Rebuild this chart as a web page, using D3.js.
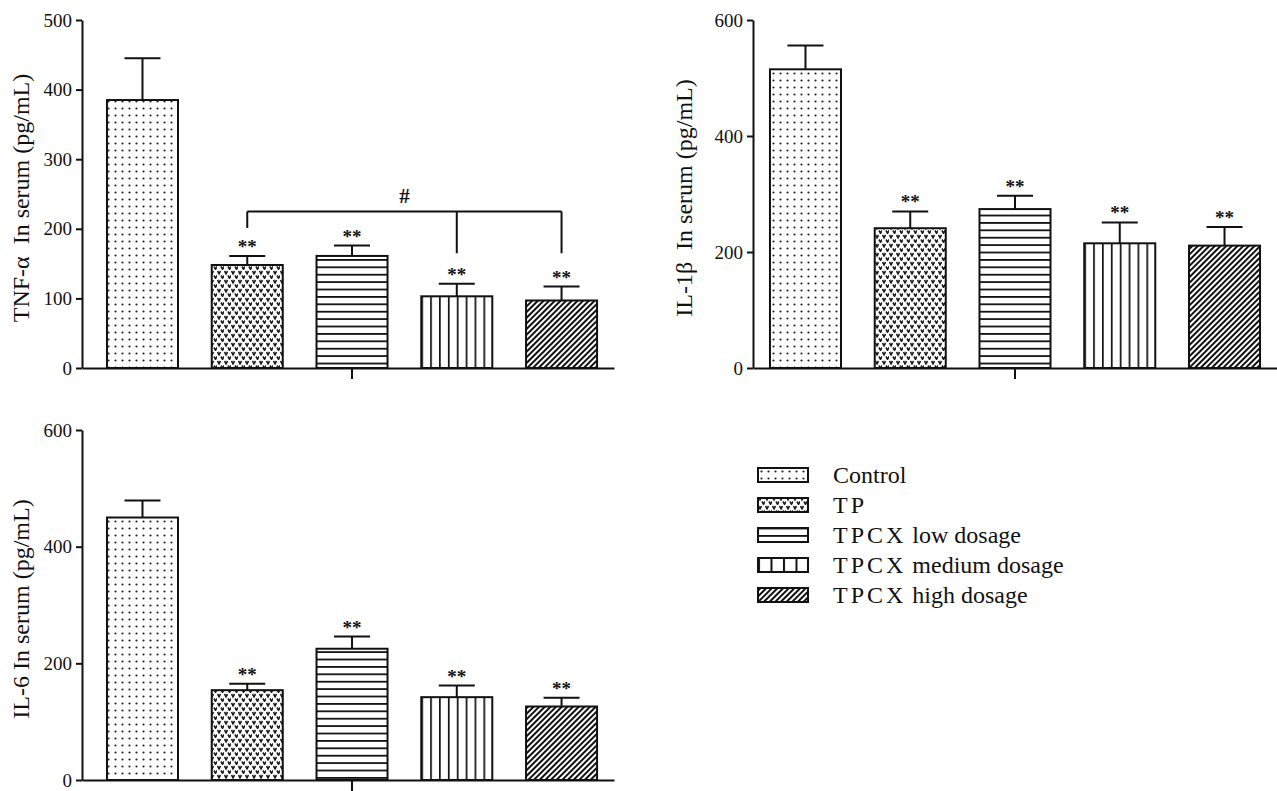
<!DOCTYPE html>
<html>
<head>
<meta charset="utf-8">
<script src="https://cdn.jsdelivr.net/npm/d3@7"></script>
<style>
  body { margin: 0; background: #fff; }
  text { font-family: "Liberation Serif", "Times New Roman", serif; fill: #111; }
</style>
</head>
<body>
<svg id="chart" width="1277" height="791"></svg>
<script>
// groups, in bar order
const groups = ['Control', 'TP', 'TPCX low dosage', 'TPCX medium dosage', 'TPCX high dosage'];

// TNF-α (pg/mL): mean and error
const tnfMean = [385, 148, 161, 103, 97];
const tnfErr = [60, 13, 15, 18, 20];
const tnfTicks = [0, 100, 200, 300, 400, 500];
const tnfStars = ['', '**', '**', '**', '**'];

// IL-1β
const il1bMean = [515, 241, 274, 215, 211];
const il1bErr = [41, 29, 23, 36, 32];
const il1bTicks = [0, 200, 400, 600];
const il1bStars = ['', '**', '**', '**', '**'];

// IL-6
const il6Mean = [450, 154, 225, 142, 126];
const il6Err = [29, 11, 21, 20, 15];
const il6Ticks = [0, 200, 400, 600];
const il6Stars = ['', '**', '**', '**', '**'];

// "#" bracket on the TNF-α panel
const bracketGroups = ['TP', 'TPCX medium dosage', 'TPCX high dosage'];
const bracketLevel = 225;
const bracketEnds = [201, 165, 165];
const bracketLabel = '#';

const svg = d3.select('#chart');
const defs = svg.append('defs');
const ink = '#111';

// ---- fill patterns ----
let p = defs.append('pattern').attr('id', 'p-dots')
    .attr('patternUnits', 'userSpaceOnUse').attr('width', 7).attr('height', 7);
p.append('circle').attr('cx', 3.5).attr('cy', 3.5).attr('r', 1.1).attr('fill', '#222');

p = defs.append('pattern').attr('id', 'p-vees')
    .attr('patternUnits', 'userSpaceOnUse').attr('width', 7).attr('height', 9);
p.append('path').attr('d', 'M0.5,1 L2,3.8 L3.5,1 M4,5.5 L5.5,8.3 L7,5.5')
    .attr('fill', 'none').attr('stroke', '#1a1a1a').attr('stroke-width', 1.6);

p = defs.append('pattern').attr('id', 'p-hlines')
    .attr('patternUnits', 'userSpaceOnUse').attr('width', 10).attr('height', 7.4);
p.append('rect').attr('x', 0).attr('y', 0).attr('width', 10).attr('height', 1.8).attr('fill', ink);

p = defs.append('pattern').attr('id', 'p-vlines')
    .attr('patternUnits', 'objectBoundingBox').attr('width', 0.125).attr('height', 1);
p.append('rect').attr('x', 0).attr('y', 0).attr('width', 1.7).attr('height', 2000).attr('fill', ink);

p = defs.append('pattern').attr('id', 'p-vlines-leg')
    .attr('patternUnits', 'objectBoundingBox').attr('width', 0.25).attr('height', 1);
p.append('rect').attr('x', 0).attr('y', 0).attr('width', 2).attr('height', 2000).attr('fill', ink);

p = defs.append('pattern').attr('id', 'p-diag')
    .attr('patternUnits', 'userSpaceOnUse').attr('width', 4).attr('height', 4)
    .attr('patternTransform', 'rotate(45)');
p.append('rect').attr('x', 0).attr('y', 0).attr('width', 2).attr('height', 4).attr('fill', ink);

const fills = ['p-dots', 'p-vees', 'p-hlines', 'p-vlines', 'p-diag'];
const legendFills = ['p-dots', 'p-vees', 'p-hlines', 'p-vlines-leg', 'p-diag'];

function drawPanel(cfg) {
    let g = svg.append('g');

    let x = d3.scaleBand().domain(groups)
        .range([cfg.x0, cfg.x1]).paddingInner(0.322).paddingOuter(cfg.outer).align(cfg.align);
    let y = d3.scaleLinear().domain([0, d3.max(cfg.ticks)]).range([cfg.y0, cfg.y1]);

    // y axis
    let ya = g.append('g')
        .attr('transform', 'translate(' + cfg.x0 + ',0)')
        .call(d3.axisLeft(y).tickValues(cfg.ticks).tickSize(6).tickSizeOuter(0).tickPadding(4));
    ya.select('.domain').attr('stroke', ink).attr('stroke-width', 2);
    ya.selectAll('.tick line').attr('stroke', ink).attr('stroke-width', 2);
    ya.selectAll('.tick text').style('font-size', '19px').attr('fill', ink);

    // x axis with one tick in the middle
    let xa = g.append('g')
        .attr('transform', 'translate(0,' + cfg.y0 + ')')
        .call(d3.axisBottom(x).tickValues([groups[2]]).tickSize(11).tickSizeOuter(0).tickFormat(''));
    xa.select('.domain').attr('stroke', ink).attr('stroke-width', 2);
    xa.selectAll('.tick line').attr('stroke', ink).attr('stroke-width', 2);

    // axis title
    g.append('text')
        .attr('transform', 'translate(' + cfg.titleX + ',' + ((cfg.y0 + cfg.y1) / 2 + 4) + ') rotate(-90)')
        .attr('text-anchor', 'middle')
        .style('font-size', '24px')
        .attr('xml:space', 'preserve')
        .text(cfg.title);

    let data = groups.map((d, i) => ({ name: d, mean: cfg.mean[i], err: cfg.err[i], star: cfg.stars[i], fill: fills[i] }));

    // bars
    g.selectAll('.bar').data(data).enter().append('rect')
        .attr('class', 'bar')
        .attr('x', d => x(d.name))
        .attr('y', d => y(d.mean))
        .attr('width', x.bandwidth())
        .attr('height', d => y(0) - y(d.mean))
        .attr('fill', d => 'url(#' + d.fill + ')')
        .attr('stroke', ink)
        .attr('stroke-width', 2);

    // error bars
    let cx = d => x(d.name) + x.bandwidth() / 2;
    g.selectAll('.err').data(data).enter().append('path')
        .attr('class', 'err')
        .attr('d', d => 'M' + cx(d) + ',' + y(d.mean) + 'V' + y(d.mean + d.err)
            + 'M' + (cx(d) - 18) + ',' + y(d.mean + d.err) + 'H' + (cx(d) + 18))
        .attr('fill', 'none')
        .attr('stroke', ink)
        .attr('stroke-width', 2);

    // significance stars
    g.selectAll('.star').data(data.filter(d => d.star)).enter().append('text')
        .attr('class', 'star')
        .attr('x', d => cx(d))
        .attr('y', d => y(d.mean + d.err) - 3)
        .attr('text-anchor', 'middle')
        .style('font-size', '19px')
        .style('font-weight', 'bold')
        .text(d => d.star);

    return { g: g, x: x, y: y };
}

let p1 = drawPanel({ x0: 82, x1: 614, y0: 368, y1: 20, outer: 0.2, align: 0.596,
    ticks: tnfTicks, mean: tnfMean, err: tnfErr, stars: tnfStars,
    title: 'TNF-α  In serum (pg/mL)', titleX: 29 });
drawPanel({ x0: 753, x1: 1277, y0: 368, y1: 20, outer: 0.162, align: 0.5,
    ticks: il1bTicks, mean: il1bMean, err: il1bErr, stars: il1bStars,
    title: 'IL-1β  In serum (pg/mL)', titleX: 692 });
drawPanel({ x0: 82, x1: 614, y0: 780, y1: 430, outer: 0.2, align: 0.596,
    ticks: il6Ticks, mean: il6Mean, err: il6Err, stars: il6Stars,
    title: 'IL-6 In serum (pg/mL)', titleX: 29 });

// bracket
let bx = d => p1.x(d) + p1.x.bandwidth() / 2;
let by = p1.y(bracketLevel);
let bpath = 'M' + bx(bracketGroups[0]) + ',' + by + 'H' + bx(bracketGroups[bracketGroups.length - 1]);
bracketGroups.forEach((d, i) => {
    bpath += 'M' + bx(d) + ',' + by + 'V' + p1.y(bracketEnds[i]);
});
p1.g.append('path').attr('d', bpath).attr('fill', 'none').attr('stroke', ink).attr('stroke-width', 2);
p1.g.append('text')
    .attr('x', (bx(bracketGroups[0]) + bx(bracketGroups[bracketGroups.length - 1])) / 2)
    .attr('y', by - 8)
    .attr('text-anchor', 'middle')
    .style('font-size', '21px')
    .style('font-weight', 'bold')
    .text(bracketLabel);

// legend
let legend = svg.append('g').attr('transform', 'translate(758,475)');
let rows = legend.selectAll('.leg').data(groups).enter().append('g')
    .attr('class', 'leg')
    .attr('transform', (d, i) => 'translate(0,' + (i * 30) + ')');
rows.append('rect')
    .attr('x', 0).attr('y', -7).attr('width', 50).attr('height', 14)
    .attr('fill', (d, i) => 'url(#' + legendFills[i] + ')')
    .attr('stroke', ink).attr('stroke-width', 2);
rows.append('text')
    .attr('x', 75).attr('y', 8)
    .style('font-size', '24px')
    .each(function (d) {
        let t = d3.select(this);
        let parts = d.split(' ');
        if (parts[0].startsWith('TP')) {
            t.append('tspan').style('letter-spacing', '3px').text(parts[0]);
            if (parts.length > 1) t.append('tspan').text(' ' + parts.slice(1).join(' '));
        } else {
            t.text(d);
        }
    });
</script>
</body>
</html>
